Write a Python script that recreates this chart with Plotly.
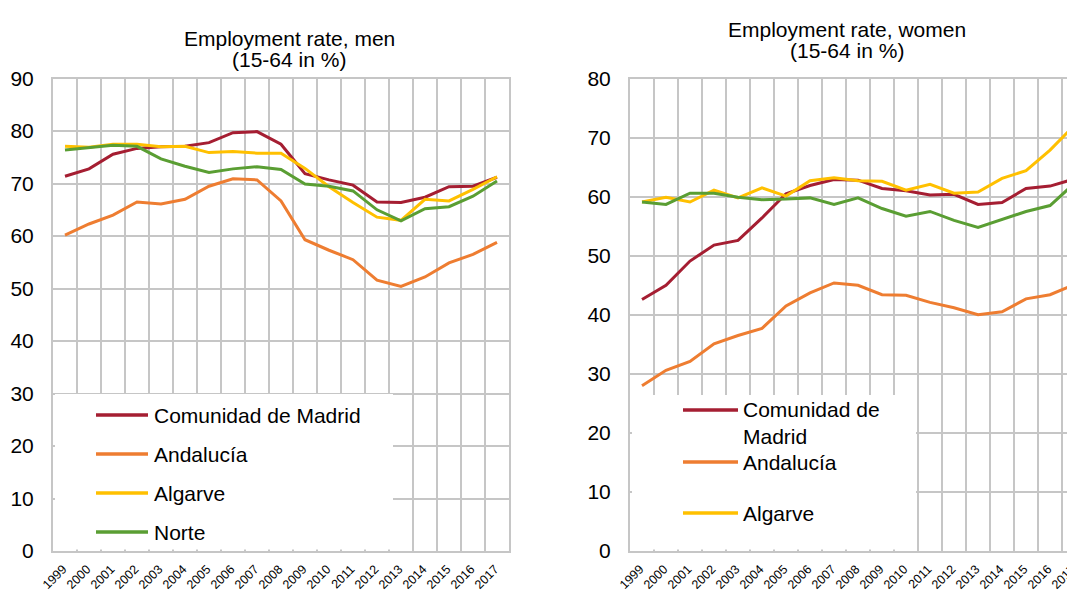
import plotly.graph_objects as go

# ---------------- data ----------------
years = ["1999", "2000", "2001", "2002", "2003", "2004", "2005", "2006", "2007", "2008",
         "2009", "2010", "2011", "2012", "2013", "2014", "2015", "2016", "2017"]

series_names = ["Comunidad de Madrid", "Andalucía", "Algarve", "Norte"]

men_madrid = [71.4, 72.8, 75.6, 76.7, 77.0, 77.1, 77.8, 79.7, 79.9, 77.5,
              71.9, 70.7, 69.7, 66.5, 66.4, 67.4, 69.4, 69.5, 71.2]
men_andalucia = [60.2, 62.3, 64.0, 66.5, 66.1, 67.0, 69.5, 70.9, 70.7, 66.7,
                 59.3, 57.3, 55.5, 51.6, 50.4, 52.2, 54.9, 56.5, 58.8]
men_algarve = [77.1, 76.9, 77.5, 77.5, 77.0, 77.1, 75.9, 76.1, 75.8, 75.8,
               72.9, 69.4, 66.4, 63.6, 63.0, 67.0, 66.7, 68.9, 71.3]
men_norte = [76.4, 76.9, 77.3, 77.1, 74.7, 73.3, 72.1, 72.8, 73.2, 72.7,
             69.9, 69.5, 68.6, 65.0, 62.9, 65.2, 65.6, 67.6, 70.5]

women_madrid = [42.6, 45.0, 49.1, 51.8, 52.6, 56.4, 60.5, 61.9, 62.9, 62.8,
                61.4, 61.0, 60.3, 60.4, 58.7, 59.0, 61.4, 61.8, 63.0]
women_andalucia = [28.0, 30.6, 32.1, 35.1, 36.5, 37.7, 41.5, 43.7, 45.4, 45.0,
                   43.4, 43.3, 42.1, 41.2, 40.0, 40.5, 42.7, 43.4, 45.1]
women_algarve = [59.1, 59.9, 59.1, 61.1, 59.8, 61.5, 60.1, 62.7, 63.2, 62.7,
                 62.6, 61.1, 62.1, 60.6, 60.8, 63.1, 64.4, 67.9, 72.0]
women_norte = [59.1, 58.7, 60.6, 60.6, 59.9, 59.5, 59.6, 59.8, 58.7, 59.8,
               58.0, 56.7, 57.5, 56.0, 54.8, 56.1, 57.5, 58.5, 62.2]

men_ticks = [0, 10, 20, 30, 40, 50, 60, 70, 80, 90]
women_ticks = [0, 10, 20, 30, 40, 50, 60, 70, 80]

title_men = ["Employment rate, men", "(15-64 in %)"]
title_women = ["Employment rate, women", "(15-64 in %)"]

legend_men = ["Comunidad de Madrid", "Andalucía", "Algarve", "Norte"]
legend_women = ["Comunidad de<br>Madrid", "Andalucía", "Algarve"]

colors = ["#A51E32", "#EE7D31", "#FFC000", "#5A9E33"]

# ---------------- styling ----------------
# the page body has an 8px default margin, so the figure is sized to fit the window
OFF = 8
W, H = 1075 - OFF, 595 - OFF
FONT = "Liberation Sans, Arial, Helvetica, sans-serif"
GRID = "#C6C6C6"
FS = 21


def fx(page_x):
    return (page_x - OFF) / W


def fy(page_y):
    return 1 - (page_y - OFF) / H


fig = go.Figure()

men = [men_madrid, men_andalucia, men_algarve, men_norte]
women = [women_madrid, women_andalucia, women_algarve, women_norte]

for name, vals, col in zip(series_names, men, colors):
    fig.add_trace(go.Scatter(x=years, y=vals, name=name, mode="lines",
                             line=dict(color=col, width=3),
                             xaxis="x", yaxis="y", showlegend=False))
for name, vals, col in zip(series_names, women, colors):
    fig.add_trace(go.Scatter(x=years, y=vals, name=name, mode="lines",
                             line=dict(color=col, width=3),
                             xaxis="x2", yaxis="y2", showlegend=False))

ydom = [fy(551), fy(78.6)]

xcommon = dict(type="category", tickson="boundaries", showgrid=True, gridcolor=GRID,
               gridwidth=2, showline=True, linecolor=GRID, linewidth=2,
               ticks="", tickangle=-45, ticklabelstandoff=4, ticklabelshift=-2,
               tickfont=dict(family=FONT, size=12.5, color="#000"),
               automargin=False, fixedrange=True)
ycommon = dict(showgrid=True, gridcolor=GRID, gridwidth=2, showline=True,
               linecolor=GRID, linewidth=2, zeroline=False, ticks="",
               ticklabelstandoff=13,
               tickfont=dict(family=FONT, size=FS, color="#000"),
               automargin=False, fixedrange=True)

fig.update_layout(
    width=W, height=H,
    margin=dict(l=0, r=0, t=0, b=0, pad=0),
    paper_bgcolor="white", plot_bgcolor="white",
    showlegend=False,
    xaxis=dict(**xcommon, domain=[fx(53), fx(509)], range=[-0.5, 18.5], mirror=True,
               anchor="y"),
    yaxis=dict(**ycommon, domain=ydom, range=[0, 90], tickvals=men_ticks, mirror=True,
               anchor="x"),
    xaxis2=dict(**xcommon, domain=[fx(630), 1.0], range=[-0.5, 18.04], mirror=True,
                anchor="y2"),
    yaxis2=dict(**ycommon, domain=ydom, range=[0, 80], tickvals=women_ticks,
                mirror=False, anchor="x2"),
)

annotations = []
shapes = []

# titles
for text, ypx in zip(title_men, [38.8, 59.9]):
    annotations.append(dict(text=text, x=fx(289), y=fy(ypx), xref="paper", yref="paper",
                            xanchor="center", yanchor="middle", showarrow=False,
                            font=dict(family=FONT, size=FS, color="#000")))
for text, ypx in zip(title_women, [29.0, 50.3]):
    annotations.append(dict(text=text, x=fx(847), y=fy(ypx), xref="paper", yref="paper",
                            xanchor="center", yanchor="middle", showarrow=False,
                            font=dict(family=FONT, size=FS, color="#000")))

# legend backgrounds (white boxes hiding the grid)
shapes.append(dict(type="rect", xref="paper", yref="paper",
                   x0=fx(55), x1=fx(393), y0=fy(549.5), y1=fy(394),
                   fillcolor="white", line=dict(width=0), layer="above"))
shapes.append(dict(type="rect", xref="paper", yref="paper",
                   x0=fx(632), x1=fx(916), y0=fy(549.5), y1=fy(395),
                   fillcolor="white", line=dict(width=0), layer="above"))

# legend entries, men
for label, col, ypx in zip(legend_men, colors, [415, 454, 493, 532]):
    shapes.append(dict(type="line", xref="paper", yref="paper", x0=fx(96), x1=fx(148),
                       y0=fy(ypx), y1=fy(ypx), line=dict(color=col, width=3.5), layer="above"))
    annotations.append(dict(text=label, x=fx(152), y=fy(ypx), xref="paper", yref="paper",
                            xanchor="left", yanchor="middle", showarrow=False,
                            font=dict(family=FONT, size=FS, color="#000")))

# legend entries, women
for label, col, ypx in zip(legend_women, colors, [410, 462, 513]):
    shapes.append(dict(type="line", xref="paper", yref="paper", x0=fx(683), x1=fx(738),
                       y0=fy(ypx), y1=fy(ypx), line=dict(color=col, width=3.5), layer="above"))
    multi = "<br>" in label
    annotations.append(dict(text=label, x=fx(741),
                            y=fy(ypx - FS * 1.3 / 2) if multi else fy(ypx),
                            xref="paper", yref="paper", align="left",
                            xanchor="left", yanchor="top" if multi else "middle",
                            showarrow=False,
                            font=dict(family=FONT, size=FS, color="#000")))

fig.update_layout(annotations=annotations, shapes=shapes)

fig.write_html("out.html")
